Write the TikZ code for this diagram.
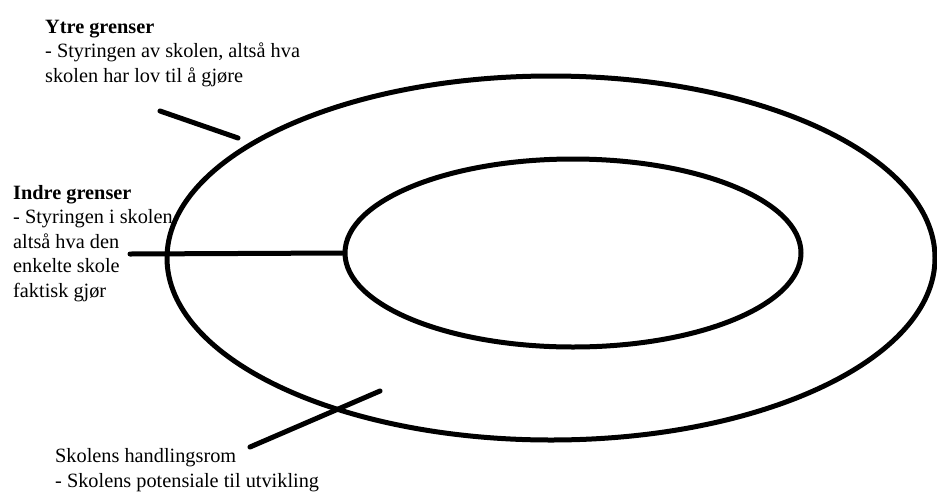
\documentclass[tikz,border=0pt]{standalone}
\usepackage{fontspec}
\setmainfont{Liberation Serif}
\usetikzlibrary{shapes.geometric}

\begin{document}
\begin{tikzpicture}[x=1pt,y=-1pt,
  ring/.style={draw=black, ellipse, line width=5pt, inner sep=0pt},
  notetext/.style={anchor=base west, align=left, inner sep=0pt, font=\fontsize{20.3}{24.5}\selectfont},
  leader/.style={black, line width=5pt, line cap=round}]
\useasboundingbox (0,0) rectangle (937,491);
% texts (placed by the baseline of their last line)
\node[notetext] (ytre) at (45,82) {\textbf{Ytre grenser}\\- Styringen av skolen, altså hva\\skolen har lov til å gjøre};
\node[notetext] (indre) at (13,297) {\textbf{Indre grenser}\\- Styringen i skolen,\\altså hva den\\enkelte skole\\faktisk gjør};
\node[notetext] (rom) at (55,487) {Skolens handlingsrom\\- Skolens potensiale til utvikling};
% the two rings
\node[ring, minimum width=768pt, minimum height=364pt] (outer) at (551,258) {};
\node[ring, minimum width=456pt, minimum height=188pt] (inner) at (573,253) {};
% leaders
\coordinate (ytre end) at (160,111);
\coordinate (ytre tip) at (238,138);
\coordinate (indre end) at (130,254);
\coordinate (rom end) at (250,447);
\coordinate (rom tip) at (380,391);
\draw[leader] (ytre end) -- (ytre tip);
\draw[leader] (indre end) -- (inner.west);
\draw[leader] (rom end) -- (rom tip);
\end{tikzpicture}
\end{document}
